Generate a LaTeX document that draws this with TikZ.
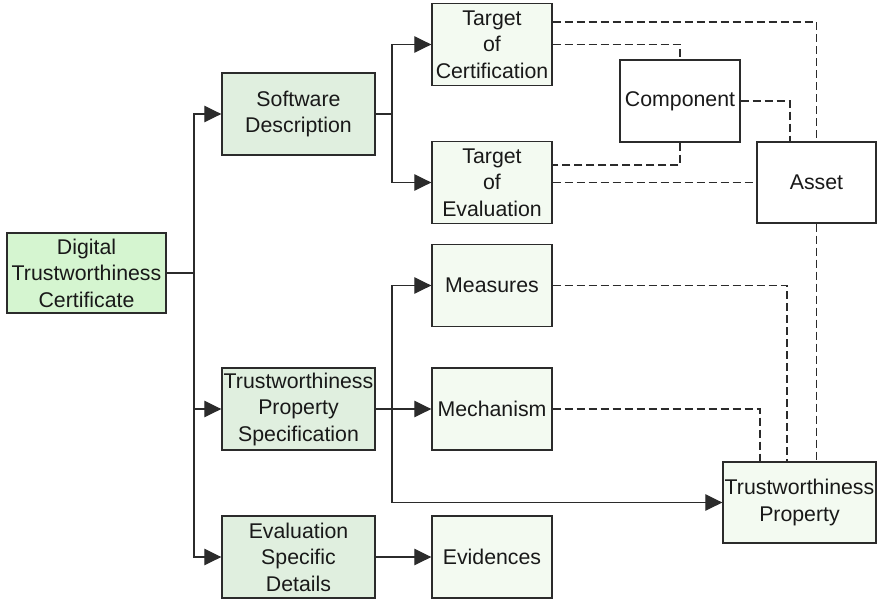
\documentclass[tikz,border=0pt]{standalone}
\usepackage{fontspec}
\setmainfont{Liberation Sans}
\usetikzlibrary{arrows.meta}

\definecolor{rootfill}{HTML}{D5F5D0}
\definecolor{midfill}{HTML}{E0EFDF}
\definecolor{leaffill}{HTML}{F3FAF1}
\definecolor{edgegray}{HTML}{2B2B2B}

\begin{document}
\begin{tikzpicture}[x=1pt,y=-1pt,
  box/.style={draw=edgegray,line width=1.4pt,inner sep=0pt,align=center,
    font=\fontsize{21.3}{26.5}\selectfont,text=black!90},
  rootbox/.style={box,fill=rootfill,minimum width=159pt,minimum height=80pt},
  midbox/.style={box,fill=midfill,minimum width=153pt,minimum height=82pt},
  leafbox/.style={box,fill=leaffill,minimum width=120pt,minimum height=82pt},
  plainbox/.style={box,fill=white,minimum width=120pt,minimum height=82pt},
  arr/.style={draw=edgegray,line width=1.3pt,-{Triangle[length=17pt,width=16.5pt]}},
  link/.style={draw=edgegray,line width=1.3pt},
  dsh/.style={draw=edgegray,line width=1.3pt,dash pattern=on 8pt off 4pt}]

\useasboundingbox (0,0) rectangle (877,599);

% boxes
\node[rootbox] (dtc) at (86.5,273) {Digital\\Trustworthiness\\Certificate};
\node[midbox] (sd) at (298.5,114) {Software\\Description};
\node[midbox] (tps) at (298.5,409) {Trustworthiness\\Property\\Specification};
\node[midbox] (esd) at (298.5,557) {Evaluation\\Specific\\Details};
\node[leafbox] (toc) at (492,44.5) {Target\\of\\Certification};
\node[leafbox] (toe) at (492,182.5) {Target\\of\\Evaluation};
\node[leafbox] (meas) at (492,285.5) {Measures};
\node[leafbox] (mech) at (492,409) {Mechanism};
\node[leafbox] (evid) at (492,557) {Evidences};
\node[plainbox] (comp) at (680,101) {Component};
\node[plainbox,minimum width=119pt,minimum height=81pt] (asset) at (816.5,182.5) {Asset};
\node[leafbox,minimum width=153pt,minimum height=81pt] (tp) at (799.5,502.5) {Trustworthiness\\Property};

% branch points
\coordinate (j1) at (194,273);
\coordinate (j2) at (392,114);
\coordinate (j3) at (392,409);

% solid tree connectors
\draw[link] (dtc.east) -- (j1);
\draw[arr] (j1) |- (sd.west);
\draw[arr] (j1) |- (tps.west);
\draw[arr] (j1) |- (esd.west);
\draw[link] (sd.east) -- (j2);
\draw[arr] (j2) |- (toc.west);
\draw[arr] (j2) |- (toe.west);
\draw[arr] (tps.east) -- (mech.west);
\draw[arr] (j3) |- (meas.west);
\draw[arr] (j3) |- (tp.west);
\draw[arr] (esd.east) -- (evid.west);

% dashed associations
\draw[dsh] ([yshift=22.5pt]toc.east) -| (asset.north);
\draw[dsh] (toc.east) -| (comp.north);
\draw[dsh] (comp.south) |- ([yshift=17.5pt]toe.east);
\draw[dsh] (toe.east) -- (asset.west);
\draw[dsh] (comp.east) -| ([xshift=-26.5pt]asset.north);
\draw[dsh] (asset.south) -- (asset.south |- tp.north);
\draw[dsh] (meas.east) -| ([xshift=-12.5pt]tp.north);
\draw[dsh] (mech.east) -| ([xshift=-39.5pt]tp.north);
\end{tikzpicture}
\end{document}
